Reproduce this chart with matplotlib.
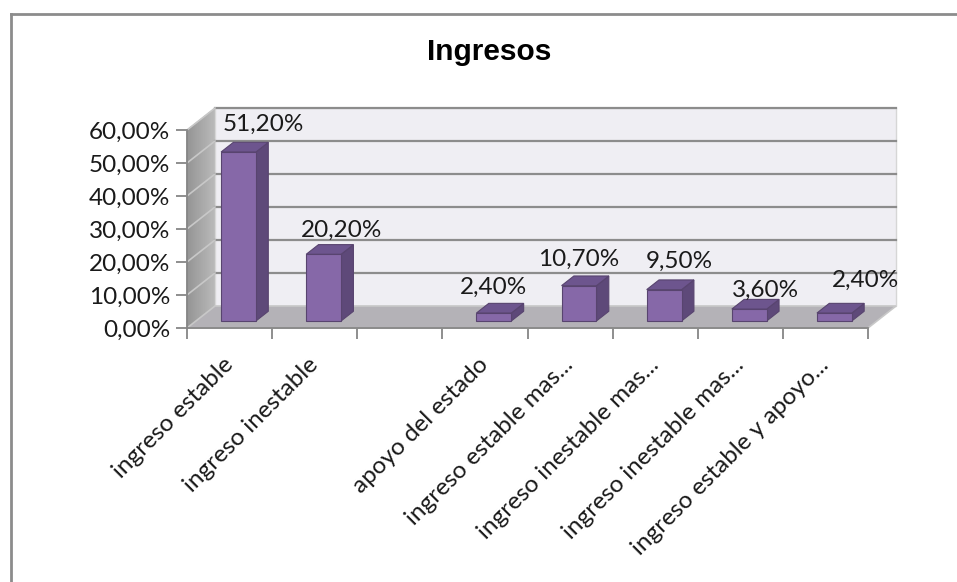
import numpy as np
import matplotlib
matplotlib.use("Agg")
import matplotlib.pyplot as plt
from matplotlib.patches import Polygon
from matplotlib.lines import Line2D
from matplotlib.colors import LinearSegmentedColormap
from matplotlib.transforms import ScaledTranslation

# data (third slot is empty in the original)
categorias = ["ingreso estable", "ingreso inestable", "", "apoyo del estado",
              "ingreso estable mas...", "ingreso inestable mas...",
              "ingreso inestable mas...", "ingreso estable y apoyo..."]
valores = [51.2, 20.2, np.nan, 2.4, 10.7, 9.5, 3.6, 2.4]
yticks = [0, 10, 20, 30, 40, 50, 60]

# label nudges (pixels) as dragged in the original
lab_dx = [25, 18, 0, 0, 0, 15, 16, 31]
lab_dy = [28, 24, 0, 26, 26, 28, 19, 33]

# colours
c_front = "#8668A8"
c_side = "#5E4979"
c_top = "#6D558E"
c_edge = "#58446F"
c_wall = "#EFEEF3"
c_floor = "#B4B2B7"
c_grid = "#8C8C8C"

W, H = 957, 582
fig = plt.figure(figsize=(W / 100, H / 100), dpi=100)
fig.patch.set_facecolor("white")
ax = fig.add_axes([187 / W, 1 - 328 / H, (868 - 187) / W, (328 - 130) / H])
n = len(categorias)
ax.set_xlim(0, n)
ax.set_ylim(0, 60)
ax.patch.set_visible(False)
for s in ["top", "right"]:
    ax.spines[s].set_visible(False)
for s in ["left", "bottom"]:
    ax.spines[s].set_color("#868686")
    ax.spines[s].set_linewidth(1.3)
    ax.spines[s].set_zorder(10)

# depth vector (28 px right, 22 px up) in data units
fig.canvas.draw()
p0 = ax.transData.transform((0, 0))
ddx, ddy = ax.transData.inverted().transform(p0 + np.array([28, 22]))

def back(x, y, f=1.0):
    return (x + f * ddx, y + f * ddy)

# side wall, shaded in strips from front (darker) to back (lighter)
cmap = LinearSegmentedColormap.from_list("g", ["#959595", "#BBBBBB"])
nstrip = 14
for k in range(nstrip):
    fa, fb = k / nstrip, (k + 1) / nstrip
    ax.add_patch(Polygon([back(0, 0, fa), back(0, 60, fa), back(0, 60, fb), back(0, 0, fb)],
                         closed=True, facecolor=cmap(fa), edgecolor=cmap(fa),
                         lw=0.5, zorder=1, clip_on=False))

# back wall
ax.add_patch(Polygon([back(0, 0), back(n, 0), back(n, 60), back(0, 60)],
                     closed=True, facecolor=c_wall, edgecolor="#D6D6D6",
                     lw=1, zorder=1, clip_on=False))

# gridlines on back wall and side wall
for v in yticks[1:]:
    ax.add_line(Line2D([back(0, v)[0], back(n, v)[0]], [back(0, v)[1]] * 2,
                       color=c_grid, lw=1.6, zorder=2, clip_on=False))
    ax.add_line(Line2D([0, back(0, v)[0]], [v, back(0, v)[1]],
                       color="#C8C8C8", lw=1.2, zorder=2, clip_on=False))

# floor
ax.add_patch(Polygon([(0, 0), (n, 0), back(n, 0), back(0, 0)], closed=True,
                     facecolor=c_floor, edgecolor="#C8C8C8", lw=1.2,
                     zorder=3, clip_on=False))

# bars (front face between depth f0 and f1)
f0, f1 = 0.32, 0.76
bw = 0.41
for i, v in enumerate(valores):
    if np.isnan(v):
        continue
    x0 = i + 0.5 - bw / 2
    x1 = x0 + bw
    a = back(x0, 0, f0)
    b = back(x1, 0, f0)
    c = back(x1, v, f0)
    d = back(x0, v, f0)
    bs = back(x1, 0, f1)
    ct = back(x1, v, f1)
    dt = back(x0, v, f1)
    ax.add_patch(Polygon([b, bs, ct, c], closed=True, facecolor=c_side,
                         edgecolor=c_edge, lw=0.8, zorder=4, clip_on=False))
    ax.add_patch(Polygon([d, c, ct, dt], closed=True, facecolor=c_top,
                         edgecolor=c_edge, lw=0.8, zorder=4, clip_on=False))
    ax.add_patch(Polygon([a, b, c, d], closed=True, facecolor=c_front,
                         edgecolor=c_edge, lw=0.8, zorder=5, clip_on=False))
    lx, ly = back(i + 0.5, v, f0)
    ax.text(lx, ly, f"{v:.2f}%".replace(".", ","), ha="center", va="center",
            fontsize=17.5, family="Lato", color="#1A1A1A", zorder=8,
            clip_on=False,
            transform=ax.transData + ScaledTranslation(lab_dx[i] / 100, lab_dy[i] / 100,
                                                       fig.dpi_scale_trans))

# axes ticks
ax.set_yticks(yticks)
ax.set_yticklabels([f"{v:.2f}%".replace(".", ",") for v in yticks])
ax.tick_params(axis="y", length=8, width=1.3, color="#868686", pad=4,
               labelsize=17.5, labelcolor="#1A1A1A")
ax.set_xticks(np.arange(n + 1))
ax.set_xticklabels([])
ax.tick_params(axis="x", which="major", length=8, width=1.3, color="#868686")
ax.set_xticks(np.arange(n) + 0.5, minor=True)
ax.set_xticklabels(categorias, minor=True, rotation=45, ha="right",
                   va="center", rotation_mode="anchor", fontsize=17.5,
                   family="Lato", color="#1A1A1A")
ax.tick_params(axis="x", which="minor", length=0, pad=24)
for lab in ax.get_yticklabels():
    lab.set_family("Lato")

# title
fig.text(489 / W, 1 - 52 / H, "Ingresos", ha="center", va="center",
         fontsize=21.5, fontweight="bold", family="Liberation Sans")

# chart frame (top and left edges visible)
fig.add_artist(Line2D([10.5 / W, 10.5 / W], [0, 1 - 13.5 / H], transform=fig.transFigure,
                      color="#8C8C8C", lw=2))
fig.add_artist(Line2D([10.5 / W, 1], [1 - 13.5 / H, 1 - 13.5 / H], transform=fig.transFigure,
                      color="#8C8C8C", lw=2))

fig.savefig("out.png", dpi=100)
